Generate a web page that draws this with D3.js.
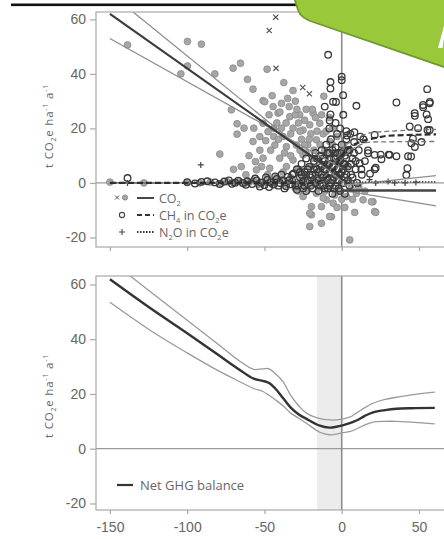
<!DOCTYPE html>
<html>
<head>
<meta charset="utf-8">
<script src="https://cdn.jsdelivr.net/npm/d3@7"></script>
<style>
html, body { margin: 0; padding: 0; background: #fff; overflow: hidden; }
svg { display: block; font-family: "Open Sans", sans-serif; }
</style>
</head>
<body>
<svg id="chart" width="444" height="539"></svg>
<script>
// ticks
const xTicks = [-150, -100, -50, 0, 50];
const yTicks = [-20, 0, 20, 40, 60];

// top panel, scatter (x = distance, y = t CO2e/ha/a)
const co2Points = [
  [-138.6,50.6],[-99.8,51.9],[-90.8,50.9],[-99.8,42.9],[-104.1,40],[-82.1,40],[-70.3,42.1],[-65.5,43.9],
  [-61,38],[-57.4,34.4],[-48.3,41.7],[-71.4,26.8],[-67.7,21.7],[-67.7,17.9],[-63.2,20.1],[-56.9,20.1],
  [-57.4,15.2],[-50.9,30.2],[-49.2,15.5],[-78.9,10.6],[-55.8,7.8],[-51.9,6],[-37.5,36.8],[-31.5,33.9],
  [-49.8,29.8],[-44.4,28],[-39,29.2],[-33.6,24.3],[-27.2,25],[-41.2,25.6],[-50.9,21.9],[-47.7,18.8],
  [-39,20.1],[-31.5,20.1],[-25,19.4],[-20.7,21.3],[-14.2,21.9],[-16.4,15.8],[-7.8,15.2],[-43.3,13.9],
  [-35.8,13.3],[-29.3,13.9],[-50.9,9.1],[-40.1,9.1],[-31.5,8.4],[-25,10.3],[-46.6,5.4],[-55.2,4.8],
  [-35.8,6],[-18.5,25.6],[-11.6,31.8],[-45,32],[-42,22],[-38,17],[-34,28],[-30,30],[-28,22],[-26,16],
  [-23,27],[-22,14],[-20,18],[-18,12],[-17,24],[-15,9],[-12,18],[-11,12],[-9,7],[-6,20],[-5,11],
  [-3,17],[-2,8],[1,14],[3,6],[4,12],[-44,17],[-53,12],[-60,10],[-65,6],[-62,3],[-70,5],[-48,3],
  [-42,2],[-38,4],[-33,2],[-28,5],[-24,3],[-20,6],[-16,4],[-13,2],
  [-47,25],[-44,20],[-41,16],[-36,22],[-33,18],[-30,25],[-27,19],[-24,23],[-21,16],[-19,27],[-16,19],
  [-13,25],[-10,19],[-8,24],[-37,11],[-33,10],[-27,12],[-23,11],[-19,9],[-53,17],[-46,12],[-40,26],
  [-35,31],[-29,27],[-24,14],[-14,14],[-10,10],[-6,14],
  [-150,0.3],[-128,0],[-100,0.2],[-92,0],[-85,0.3],[-78,-0.2],[-74,0.4],[-70,0],[-66,0.6],[-63,-0.4],
  [-60,0.2],[-57,0.8],[-54,-0.6],[-51,0.3],[-48,1],[-45,-0.5],[-43,0.4],[-40,1.4],[-37,-0.8],[-35,0.6],
  [-32,1.2],[-30,-1],[-27,0.4],[-25,2],[-23,-1.5],[-21,0.8],[-19,-0.5],[-17,1.6],[-15,-1.8],
  [-25,-5],[-16.4,-3.8],[-9.9,-6.2],[-4.5,-4.4],[-19.6,-8.7],[-13.1,-8.7],[3,-5],[9.5,-3.8],[13.8,-6.2],
  [-19.6,-11.7],[-6.7,-12.4],[-13.1,-14.8],[-20.7,-16],[5.2,-20.9],[21.3,-10.5],[20.2,-6.9],[-20.7,-11.1],
  [-7.8,-12.3],[-5.6,-7.4],[8.4,-10.8],[-28,-3],[-22,-2.5],[-11,-3],[-7,-2],[-2,-3],[0,-6],[2,-9],
  [6,-2],[11,-1.5],[15,-3],[-30,-2],[-12,-5.5],[-3,-9],[7,-6],[19.2,-6.9],[22,-10.8]
];
const co2Cross = [[-42.7,60.8],[-46.9,55.9],[-42.5,42.1],[-25.2,35],[-20.9,32.7]];
const ch4Points = [
  [-8.8,47],[0,39],[0,37.7],[-7.3,37],[-7.3,34.6],[0.9,32.2],[-3.7,29.7],[-7.3,25.1],[9.5,28.3],
  [35.4,29.5],[55.3,34.4],[57,29.7],[52.7,27.8],[47.3,24.6],[54.9,25.1],[55.9,23.4],[49.4,20.1],
  [55.5,19.4],[46.1,16.2],[51.6,15],[47.3,13.2],[42.9,9.8],[35.4,9.8],[30.4,10.4],[25.2,10.4],[17,11.9],
  [11.6,7.2],[22,5.6],[42.5,5.4],[18.3,3.4],[3.4,17.4],[5.6,18],[8.2,18.6],[-7.8,22.9],[-11,28],
  [-5.6,29.8],[21.3,17.6],[17,10.9],[21.3,10.3],[25.7,8.7],[31,10.3],[12.7,5],[21.3,5],[44.9,9.7],
  [41.8,2.9],[45.1,14.6],[47.2,25.6],[52.6,28.6],[56.9,29.2],[44,20.7],[56.9,19.4],
  [-34,1],[-32,3],[-30,-1],[-29,5],[-27,2],[-26,7],[-25,-2],[-24,4],[-23,9],[-22,1],[-21,6],[-20,-1],
  [-19,3],[-18,8],[-17,11],[-16,5],[-15,1],[-15,-3],[-14,7],[-13,3],[-13,12],[-12,-1],[-12,9],[-11,5],
  [-10,2],[-10,14],[-9,-2],[-9,7],[-8,4],[-8,11],[-7,0],[-7,16],[-6,6],[-6,-4],[-5,9],[-5,2],[-4,13],
  [-4,-1],[-3,5],[-3,18],[-2,1],[-2,8],[-1,11],[-1,-3],[0,4],[0,14],[1,7],[1,0],[2,10],[2,-4],[3,3],
  [3,16],[4,6],[5,12],[5,-1],[6,3],[7,9],[8,15],[9,5],[10,0],[11,12],[12,17],[13,3],[14,16],[15,8],
  [-4,22],[-1,20],[1,25],[3,19],[-8,20],
  [-28,-1],[-26,3],[-24,-1],[-22,5],[-20,2],[-19,-2],[-18,5],[-17,0],[-16,9],[-15,4],[-14,-1],[-14,10],
  [-13,6],[-12,2],[-11,-2],[-11,8],[-10,5],[-9,1],[-9,11],[-8,7],[-8,-1],[-7,4],[-7,9],[-6,1],[-6,12],
  [-5,6],[-5,-2],[-4,3],[-4,9],[-3,1],[-3,11],[-2,5],[-2,-2],[-1,3],[-1,8],[0,0],[0,11],[1,5],[2,2],
  [2,7],[3,9],[4,1],[4,12],[6,7],[7,2],[8,11],[9,8],
  [-138.6,1.8],[-90.8,0.4],[-82,0.2],[-76,0.5],[-71,-0.3],[-67,0.8],[-64,0],[-61,0.6],[-58,-0.4],
  [-55,0.9],[-52,0.1],[-50,-0.8],[-48,1.2],[-46,0.2],[-44,-0.6],[-42,1.5],[-40,0],[-38,0.9],[-36,-1.2],
  [-100,0.3],[-95,-0.2],[-87,0.6],[-79,-0.4],[-73,0.9],[-69,0.1],[-62,-0.7],[-56,1.6],[-53,-1.3],
  [-49,2],[-47,-1.5],[-43,2.4],[-41,-1],[-39,3],[-37,-2],[-35,2.2],[-33,-0.5],[-31,3.5],[-29,-2.5],
  [-27,4],[-25,0.5],[-23,-3],[-21,3]
];
const n2oPoints = [[-91.2,6.6],[-138.6,0],[22,0],[34.3,0],[41,0],[30,0.5],[48,0.2],[12,-0.3],[-60,0.2],
  [-30,0.3],[-10,0.8],[5,1],[-5,3],[0,2.5],[18,1.2]];

// top panel, fitted lines
const co2Fit = [[-150,62],[0,2]];
const co2Upper = [[-150,69.6],[0,0.6]];
const co2Lower = [[-150,53],[0,5.4]];
const co2FitR = [[0,-2.8],[61,-2.8]];
const co2UpperR = [[0,-1],[61,2.7]];
const co2LowerR = [[0,-2.7],[61,-8.4]];
const ch4Fit = [[-150,0],[-20,0],[-10,2],[-5,5],[0,10],[5,13],[11.6,15],[22,16.5],[30,17.3],[61,17.8]];
const ch4Upper = [[-150,0],[-20,0],[-10,3],[-5,7],[0,12],[10,16.5],[20,18.5],[61,19.6]];
const ch4Lower = [[-150,0],[-20,0],[-10,1],[-5,4],[0,8.5],[10,13.5],[20,15],[61,15.2]];
const n2oFit = [[-150,0],[61,0.4]];

// bottom panel, net GHG balance
const netX =     [-150, -124, -100, -80, -65, -57, -51, -47, -43, -38, -33, -28, -22.8, -14.2, -8, -3.4, 0, 5.2, 9.5, 15, 20.3, 28, 35.4, 45, 60.2];
const netMid =   [61.9, 51.4, 42.2, 34.3, 28.4, 25.6, 24.8, 24, 22, 18.5, 15, 12.6, 10.9, 8.4, 7.7, 8, 8.4, 9.3, 10.3, 12, 13.3, 14.1, 14.6, 14.8, 14.9];
const netUpper = [69, 57.4, 46.9, 38.2, 31.6, 29, 29.2, 29.2, 27.5, 24.5, 19.5, 15.8, 13, 11, 10.5, 10.5, 10.8, 11.5, 13, 15, 16.6, 18, 18.8, 19.7, 20.7];
const netLower = [53.5, 43.3, 35, 28.5, 24.2, 22, 20.9, 19.5, 17.9, 15.7, 13, 11.2, 9.3, 6, 5.1, 5.3, 5.8, 6.2, 7.2, 8.7, 9.7, 10, 10, 9.7, 9.1];
const bandRange = [-16, 0];

const svg = d3.select('#chart');
const ink = '#666';
const frame = '#a8a8a8';

const x = d3.scaleLinear().domain([-159, 72]).range([96, 453]);
const yTop = d3.scaleLinear().domain([-23.5, 62.7]).range([247, 12]);
const yBot = d3.scaleLinear().domain([-22.4, 63.1]).range([510, 276]);

// slide decoration
svg.append('rect').attr('x', 11).attr('y', 3.5).attr('width', 286).attr('height', 2.6).attr('fill', '#111');

function panel(y, id) {
  const [y1, y0] = y.range();
  svg.append('clipPath').attr('id', id)
    .append('rect').attr('x', 96).attr('y', y0).attr('width', 360).attr('height', y1 - y0);
  const g = svg.append('g');
  const plot = g.append('g').attr('clip-path', `url(#${id})`);
  return {g, plot};
}

function frameAndAxes(p, y, labels) {
  const [y1, y0] = y.range();
  p.g.append('rect').attr('x', 96).attr('y', y0).attr('width', 400).attr('height', y1 - y0)
    .attr('fill', 'none').attr('stroke', frame).attr('stroke-width', 1.2);
  const ya = p.g.append('g').attr('transform', 'translate(96,0)')
    .call(d3.axisLeft(y).tickValues(yTicks).tickSize(6).tickPadding(4).tickFormat(d => String(d)));
  const xa = p.g.append('g').attr('transform', `translate(0,${y1})`)
    .call(d3.axisBottom(x).tickValues(xTicks).tickSize(4).tickPadding(8)
      .tickFormat(labels ? (d => String(d)) : ''));
  [ya, xa].forEach(a => {
    a.select('.domain').remove();
    a.selectAll('line').attr('stroke', frame).attr('stroke-width', 1.2);
    a.selectAll('text').attr('fill', ink).attr('font-size', 14);
  });
  p.plot.append('line').attr('x1', 96).attr('x2', 456).attr('y1', y(0)).attr('y2', y(0))
    .attr('stroke', '#9a9a9a').attr('stroke-width', 1.3);
  p.plot.append('line').attr('x1', x(0)).attr('x2', x(0)).attr('y1', y0).attr('y2', y1)
    .attr('stroke', '#8c8c8c').attr('stroke-width', 1.6);
}

function yTitle(cy) {
  const t = svg.append('text').attr('transform', `translate(53,${cy}) rotate(-90)`)
    .attr('text-anchor', 'middle').attr('fill', ink).attr('font-size', 11.5).attr('letter-spacing', 0.8);
  t.append('tspan').text('t CO');
  t.append('tspan').attr('font-size', 7).attr('dy', 3).text('2');
  t.append('tspan').attr('dy', -3).text('e ha');
  t.append('tspan').attr('font-size', 7).attr('dy', -5).text('-1');
  t.append('tspan').attr('dy', 5).text(' a');
  t.append('tspan').attr('font-size', 7).attr('dy', -5).text('-1');
}

// ---------- top panel ----------
const topPanel = panel(yTop, 'clipTop');
frameAndAxes(topPanel, yTop, false);
yTitle(126);

topPanel.plot.append('g').selectAll('circle').data(co2Points).join('circle')
  .attr('cx', d => x(d[0])).attr('cy', d => yTop(d[1])).attr('r', 3.4)
  .attr('fill', '#a6a6a6').attr('stroke', '#8a8a8a').attr('stroke-width', 0.8);
topPanel.plot.append('g').selectAll('circle').data(ch4Points).join('circle')
  .attr('cx', d => x(d[0])).attr('cy', d => yTop(d[1])).attr('r', 3.3)
  .attr('fill', 'none').attr('stroke', '#383838').attr('stroke-width', 1.3);
topPanel.plot.append('g').selectAll('path').data(co2Cross).join('path')
  .attr('d', d => { const cx = x(d[0]), cy = yTop(d[1]), s = 2.6;
    return `M${cx - s},${cy - s}L${cx + s},${cy + s}M${cx - s},${cy + s}L${cx + s},${cy - s}`; })
  .attr('stroke', '#555').attr('stroke-width', 1.2);
topPanel.plot.append('g').selectAll('path').data(n2oPoints).join('path')
  .attr('d', d => { const cx = x(d[0]), cy = yTop(d[1]), s = 3;
    return `M${cx - s},${cy}L${cx + s},${cy}M${cx},${cy - s}L${cx},${cy + s}`; })
  .attr('stroke', '#444').attr('stroke-width', 1.2);

const lineTop = d3.line().x(d => x(d[0])).y(d => yTop(d[1])).curve(d3.curveMonotoneX);
function drawTop(data, color, width, dash) {
  topPanel.plot.append('path').datum(data).attr('d', lineTop).attr('fill', 'none')
    .attr('stroke', color).attr('stroke-width', width).attr('stroke-dasharray', dash || null);
}
drawTop(co2Upper, '#8e8e8e', 1.3);
drawTop(co2Lower, '#8e8e8e', 1.3);
drawTop(co2Fit, '#3c3c3c', 2.2);
drawTop(co2UpperR, '#8e8e8e', 1.2);
drawTop(co2LowerR, '#8e8e8e', 1.2);
drawTop(co2FitR, '#444', 2.4);
drawTop(n2oFit, '#555', 1.6, '1.5,1.5');
drawTop(ch4Upper, '#777', 1.3, '5,3');
drawTop(ch4Lower, '#777', 1.3, '5,3');
drawTop(ch4Fit, '#2e2e2e', 2.2, '6,3');

// top legend
const legendRows = [
  {label: ['CO', '2', ''], dash: null},
  {label: ['CH', '4', ' in CO', '2', 'e'], dash: '5,3'},
  {label: ['N', '2', 'O in CO', '2', 'e'], dash: '1.5,1.5'}
];
const leg = svg.append('g');
legendRows.forEach((r, i) => {
  const cy = 198 + i * 17;
  leg.append('line').attr('x1', 137).attr('x2', 154).attr('y1', cy).attr('y2', cy)
    .attr('stroke', '#333').attr('stroke-width', 1.8).attr('stroke-dasharray', r.dash);
  const t = leg.append('text').attr('x', 159).attr('y', cy + 4.5).attr('fill', ink).attr('font-size', 12.5);
  r.label.forEach((s, k) => {
    t.append('tspan').attr('font-size', k % 2 ? 7.5 : null).attr('dy', k % 2 ? 3 : (k ? -3 : 0)).text(s);
  });
});
leg.append('path').attr('d', 'M115,195.5L119,199.5M115,199.5L119,195.5').attr('stroke', '#555').attr('stroke-width', 1);
leg.append('circle').attr('cx', 125).attr('cy', 197.5).attr('r', 2.6).attr('fill', '#a6a6a6').attr('stroke', '#8a8a8a');
leg.append('circle').attr('cx', 122).attr('cy', 215).attr('r', 2.6).attr('fill', 'none').attr('stroke', '#444').attr('stroke-width', 1.1);
leg.append('path').attr('d', 'M119,232H125M122,229V235').attr('stroke', '#444').attr('stroke-width', 1.1);

// ---------- bottom panel ----------
const botPanel = panel(yBot, 'clipBot');
botPanel.plot.append('rect').attr('x', x(bandRange[0])).attr('width', x(bandRange[1]) - x(bandRange[0]))
  .attr('y', 276).attr('height', 234).attr('fill', '#ececec');
frameAndAxes(botPanel, yBot, true);
yTitle(396);

const lineBot = d3.line().x(d => x(d[0])).y(d => yBot(d[1])).curve(d3.curveCatmullRom);
[netUpper, netLower].forEach(v => {
  botPanel.plot.append('path').datum(netX.map((d, i) => [d, v[i]])).attr('d', lineBot)
    .attr('fill', 'none').attr('stroke', '#9a9a9a').attr('stroke-width', 1.3);
});
botPanel.plot.append('path').datum(netX.map((d, i) => [d, netMid[i]])).attr('d', lineBot)
  .attr('fill', 'none').attr('stroke', '#333').attr('stroke-width', 2.4);

svg.append('line').attr('x1', 117).attr('x2', 133).attr('y1', 485).attr('y2', 485)
  .attr('stroke', '#333').attr('stroke-width', 2.2);
svg.append('text').attr('x', 140).attr('y', 489.5).attr('fill', ink).attr('font-size', 13)
  .text('Net GHG balance');

// slide decoration: green banner in the corner, with the edge of a white letter
svg.append('path')
  .attr('d', 'M294,-3L298,10Q301,19 316,23L447,68L447,-3Z')
  .attr('fill', '#9ac83b').attr('stroke', '#6f9a25').attr('stroke-width', 1.8);
svg.append('path').attr('d', 'M438,48L444,26L444,38L442.5,48Z').attr('fill', '#fff');
</script>
</body>
</html>
